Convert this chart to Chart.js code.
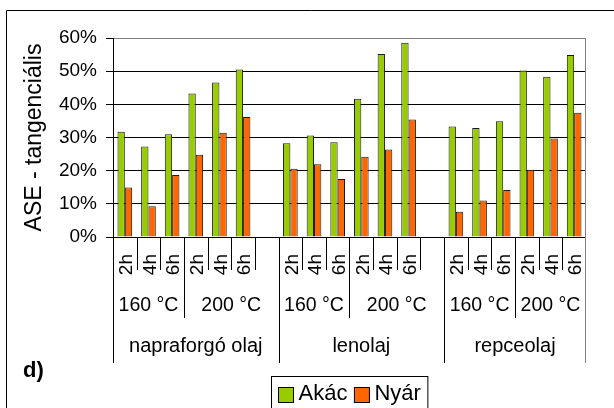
<!DOCTYPE html>
<html>
<head>
<meta charset="utf-8">
<script src="https://cdn.jsdelivr.net/npm/chart.js@4.4.1/dist/chart.umd.min.js"></script>
<style>
  html, body { margin: 0; padding: 0; background: #fff; }
  canvas { display: block; }
</style>
</head>
<body>
<canvas id="chart" width="614" height="408"></canvas>
<script>
const timeLabels = ["2h", "4h", "6h", "2h", "4h", "6h", "",
                    "2h", "4h", "6h", "2h", "4h", "6h", "",
                    "2h", "4h", "6h", "2h", "4h", "6h"];
const tempLabels = ["160 °C", "160 °C", "160 °C", "200 °C", "200 °C", "200 °C", "200 °C",
                    "160 °C", "160 °C", "160 °C", "200 °C", "200 °C", "200 °C", "200 °C",
                    "160 °C", "160 °C", "160 °C", "200 °C", "200 °C", "200 °C"];
const oilLabels = ["napraforgó olaj", "napraforgó olaj", "napraforgó olaj", "napraforgó olaj",
                   "napraforgó olaj", "napraforgó olaj", "napraforgó olaj",
                   "lenolaj", "lenolaj", "lenolaj", "lenolaj", "lenolaj", "lenolaj", "lenolaj",
                   "repceolaj", "repceolaj", "repceolaj", "repceolaj", "repceolaj", "repceolaj"];

const akac = [31.7, 27.3, 31.0, 43.3, 46.6, 50.5, null,
              28.3, 30.6, 28.6, 41.7, 55.2, 58.6, null,
              33.3, 32.9, 34.9, 50.2, 48.3, 54.9];
const nyar = [14.9, 9.3, 18.7, 24.8, 31.4, 36.2, null,
              20.6, 21.9, 17.5, 24.2, 26.4, 35.4, null,
              7.6, 11.0, 14.2, 20.3, 29.7, 37.5];

const seriesNames = ["Akác", "Nyár"];
const seriesColors = ["#99CC00", "#FF6600"];
const yTitle = "ASE - tangenciális";
const panelLabel = "d)";
const yMax = 60;
const yStep = 10;

const FONT = "'Liberation Sans', Arial, sans-serif";

// multi-level category labels, separator lines, legend box and frame
const decorPlugin = {
  id: "decor",
  afterDraw(chart) {
    const ctx = chart.ctx;
    const x = chart.scales.x;
    const area = chart.chartArea;
    const n = timeLabels.length;
    const w = (x.right - x.left) / n;
    const depth = [33, 81, 126];

    ctx.save();
    ctx.lineWidth = 1;

    // plot area right border
    ctx.strokeStyle = "#808080";
    ctx.beginPath();
    ctx.moveTo(Math.round(area.right) - 0.5, area.top);
    ctx.lineTo(Math.round(area.right) - 0.5, area.bottom);
    ctx.stroke();

    for (let i = 0; i <= n; i++) {
      let lvl = 0;
      if (i === 0 || i === n || oilLabels[i] !== oilLabels[i - 1]) lvl = 2;
      else if (tempLabels[i] !== tempLabels[i - 1]) lvl = 1;
      const px = i === n ? Math.round(x.right) - 0.5 : Math.round(x.left + i * w) + 0.5;
      ctx.strokeStyle = i === n ? "#808080" : "#000";
      ctx.beginPath();
      ctx.moveTo(px, x.top);
      ctx.lineTo(px, x.top + depth[lvl]);
      ctx.stroke();
    }

    ctx.fillStyle = "#000";
    ctx.textAlign = "center";
    ctx.textBaseline = "middle";

    function drawSpans(keyFn, labelArr, y, font) {
      ctx.font = font;
      let start = 0;
      for (let i = 1; i <= n; i++) {
        if (i === n || keyFn(i) !== keyFn(start)) {
          const cx = x.left + (start + i) / 2 * w;
          ctx.fillText(labelArr[start], cx, y);
          start = i;
        }
      }
    }
    drawSpans(i => oilLabels[i] + "|" + tempLabels[i], tempLabels, x.top + 69, "19.5px " + FONT);
    drawSpans(i => oilLabels[i], oilLabels, x.top + 109, "20px " + FONT);

    // panel label
    ctx.textAlign = "left";
    ctx.font = "bold 22px " + FONT;
    ctx.fillText(panelLabel, 23, 371);

    // legend, centred under the plot area
    ctx.font = "22px " + FONT;
    const box = 15, gap = 5, itemGap = 7, pad = 7;
    const items = chart.data.datasets.map(d => ({
      label: d.label, color: d.backgroundColor, tw: ctx.measureText(d.label).width
    }));
    let total = pad * 2;
    items.forEach((it, k) => { total += box + gap + it.tw + (k ? itemGap : 0); });
    const lx = Math.round((area.left + area.right) / 2 - total / 2) + 0.5;
    const ly = 376.5;
    ctx.strokeStyle = "#000";
    ctx.strokeRect(lx, ly, total, 40);
    let cx = lx + pad;
    const cy = 395;
    items.forEach((it, k) => {
      if (k) cx += itemGap;
      ctx.fillStyle = it.color;
      ctx.fillRect(cx, cy - box / 2, box, box);
      ctx.strokeRect(cx, cy - box / 2, box, box);
      cx += box + gap;
      ctx.fillStyle = "#000";
      ctx.fillText(it.label, cx, cy - 1);
      cx += it.tw;
    });

    // outer chart frame
    ctx.strokeStyle = "#000";
    ctx.beginPath();
    ctx.moveTo(6.5, 420);
    ctx.lineTo(6.5, 10.5);
    ctx.lineTo(620, 10.5);
    ctx.stroke();
    ctx.restore();
  }
};

new Chart(document.getElementById("chart"), {
  type: "bar",
  data: {
    labels: timeLabels,
    datasets: [
      {
        label: seriesNames[0],
        data: akac,
        backgroundColor: seriesColors[0],
        borderColor: "#1a1a1a",
        borderWidth: 1,
      },
      {
        label: seriesNames[1],
        data: nyar,
        backgroundColor: seriesColors[1],
        borderColor: "#1a1a1a",
        borderWidth: 1,
      },
    ],
  },
  options: {
    responsive: false,
    animation: false,
    devicePixelRatio: 1,
    layout: { padding: { top: 38, right: 2, bottom: 0, left: 0 } },
    plugins: {
      legend: { display: false },
      tooltip: { enabled: false },
    },
    datasets: { bar: { categoryPercentage: 0.62, barPercentage: 1.0 } },
    scales: {
      x: {
        offset: true,
        grid: { display: true, drawOnChartArea: false, drawTicks: false },
        border: { display: true, color: "#000", width: 1 },
        ticks: {
          autoSkip: false,
          minRotation: 90,
          maxRotation: 90,
          padding: 17,
          labelOffset: 2,
          color: "#000",
          font: { family: FONT, size: 19 },
        },
        afterFit(scale) { scale.height = 171; },
      },
      y: {
        min: 0,
        max: yMax,
        ticks: {
          stepSize: yStep,
          padding: 9,
          color: "#000",
          font: { family: FONT, size: 19 },
          callback: (v) => v + "%",
        },
        grid: {
          color: (c) => (c.tick && c.tick.value === yMax ? "#808080" : "#000"),
          tickColor: "#000",
          tickLength: 7,
        },
        border: { display: true, color: "#000", width: 1 },
        title: {
          display: true,
          text: yTitle,
          color: "#000",
          font: { family: FONT, size: 23 },
          padding: { top: 21, bottom: 0 },
        },
        afterFit(scale) { scale.width = 113; },
      },
    },
  },
  plugins: [decorPlugin],
});
</script>
</body>
</html>
